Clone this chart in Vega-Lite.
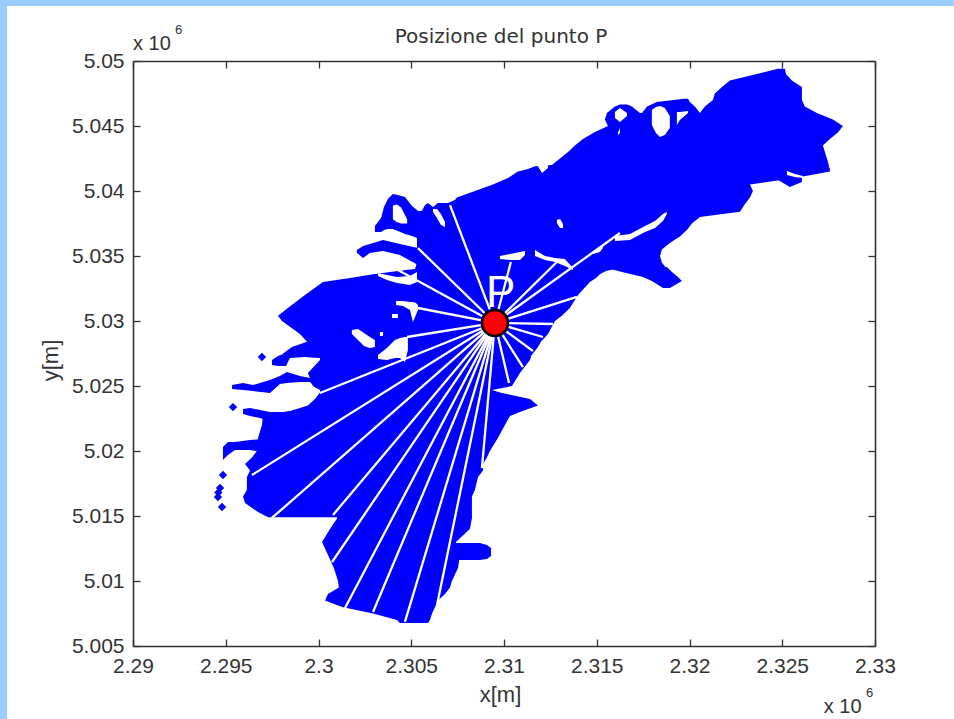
{"$schema":"https://vega.github.io/schema/vega-lite/v6.json","width":742,"height":585,"autosize":{"type":"none"},"padding":{"left":133,"top":61,"right":79,"bottom":73},"background":"white","title":{"text":"Posizione del punto P","font":"DejaVu Sans","fontSize":20,"fontWeight":"normal","color":"#333333","anchor":"middle","offset":-47,"dx":-3},"config":{"view":{"stroke":null},"axis":{"domainColor":"#333333","domainWidth":1.6,"tickColor":"#333333","tickWidth":1.3,"tickSize":-7,"grid":false,"labelFont":"Liberation Sans","labelFontSize":21,"labelColor":"#333333","labelPadding":16,"labelFlush":false,"labelOverlap":false,"titleFont":"Liberation Sans","titleFontSize":22,"titleFontWeight":"normal","titleColor":"#333333"}},"datasets":{"strips":[{"x":2282830,"x2":2283210,"y":4999385,"y2":5054690},{"x":2282830,"x2":2334250,"y":5054230,"y2":5054690}],"bands":[{"s":"a","y":5006770,"x":2304390,"x2":2305900},{"s":"a","y":5007000,"x":2304230,"x2":2306010},{"s":"a","y":5007500,"x":2302940,"x2":2306120},{"s":"a","y":5008000,"x":2301270,"x2":2306280},{"s":"a","y":5008500,"x":2300350,"x2":2306440},{"s":"a","y":5009000,"x":2300510,"x2":2306820},{"s":"a","y":5009500,"x":2301100,"x2":2307090},{"s":"a","y":5010000,"x":2301050,"x2":2307190},{"s":"a","y":5011000,"x":2300830,"x2":2307520},{"s":"a","y":5012000,"x":2300510,"x2":2307630},{"s":"a","y":5013000,"x":2300190,"x2":2307410},{"s":"a","y":5014000,"x":2300620,"x2":2308160},{"s":"a","y":5014800,"x":2301000,"x2":2308270},{"s":"a","y":5015000,"x":2301000,"x2":2308270},{"s":"b","y":5014900,"x":2297280,"x2":2308270},{"s":"b","y":5015300,"x":2296740,"x2":2308270},{"s":"b","y":5016000,"x":2296040,"x2":2308270},{"s":"b","y":5016500,"x":2295930,"x2":2308270},{"s":"b","y":5017000,"x":2296140,"x2":2308430},{"s":"b","y":5018000,"x":2296140,"x2":2308600},{"s":"b","y":5018500,"x":2296310,"x2":2308870},{"s":"b","y":5019000,"x":2296040,"x2":2308870},{"s":"b","y":5019500,"x":2296410,"x2":2309080},{"s":"b","y":5020000,"x":2296680,"x2":2309240},{"s":"b","y":5021000,"x":2296740,"x2":2309670},{"s":"b","y":5022000,"x":2296950,"x2":2310050},{"s":"b","y":5022700,"x":2297010,"x2":2310320},{"s":"b","y":5023000,"x":2298300,"x2":2310860},{"s":"b","y":5023500,"x":2299430,"x2":2311830},{"s":"b","y":5024000,"x":2299810,"x2":2311400},{"s":"b","y":5024500,"x":2300080,"x2":2309780},{"s":"b","y":5024690,"x":2300080,"x2":2309350},{"s":"b","y":5025000,"x":2299700,"x2":2310430},{"s":"b","y":5026000,"x":2299430,"x2":2310860},{"s":"b","y":5027000,"x":2300080,"x2":2311400},{"s":"b","y":5027200,"x":2300080,"x2":2311450},{"s":"b","y":5027300,"x":2298090,"x2":2311450},{"s":"b","y":5027500,"x":2298090,"x2":2311560},{"s":"b","y":5028000,"x":2298570,"x2":2311830},{"s":"b","y":5028400,"x":2299380,"x2":2311990},{"s":"b","y":5029000,"x":2299000,"x2":2312370},{"s":"b","y":5030000,"x":2298030,"x2":2312750},{"s":"b","y":5030400,"x":2297820,"x2":2313120},{"s":"b","y":5031000,"x":2298350,"x2":2313550},{"s":"b","y":5032000,"x":2299270,"x2":2313990},{"s":"b","y":5033000,"x":2300240,"x2":2314630},{"s":"b","y":5033300,"x":2301700,"x2":2314960},{"s":"b","y":5033600,"x":2302940,"x2":2315170},{"s":"b","y":5033850,"x":2304280,"x2":2315500},{"s":"b","y":5034000,"x":2305200,"x2":2315980},{"s":"p","y":5032540,"x":2318570,"x2":2318940},{"s":"p","y":5033080,"x":2317970,"x2":2319590},{"s":"p","y":5033380,"x":2317490,"x2":2319380},{"s":"p","y":5033770,"x":2316360,"x2":2319050},{"s":"p","y":5034150,"x":2315330,"x2":2318780},{"s":"c","y":5034000,"x":2305200,"x2":2318780},{"s":"c","y":5034500,"x":2305310,"x2":2318510},{"s":"c","y":5035000,"x":2305310,"x2":2318410},{"s":"c","y":5035500,"x":2305310,"x2":2318510},{"s":"c","y":5036000,"x":2305310,"x2":2318940},{"s":"c","y":5036500,"x":2305310,"x2":2319480},{"s":"c","y":5037000,"x":2305310,"x2":2319860},{"s":"c","y":5037500,"x":2305310,"x2":2320130},{"s":"c","y":5038000,"x":2305310,"x2":2320560},{"s":"c","y":5038400,"x":2305310,"x2":2322720},{"s":"c","y":5039000,"x":2307190,"x2":2322990},{"s":"c","y":5039500,"x":2307460,"x2":2323260},{"s":"c","y":5040000,"x":2308430,"x2":2323420},{"s":"c","y":5040500,"x":2309400,"x2":2323260},{"s":"c","y":5041000,"x":2310210,"x2":2325680},{"s":"c","y":5041500,"x":2310750,"x2":2327570},{"s":"c","y":5041700,"x":2311290,"x2":2327570},{"s":"c","y":5041900,"x":2311670,"x2":2327510},{"s":"c","y":5042000,"x":2312580,"x2":2327510},{"s":"c","y":5042500,"x":2313020,"x2":2327410},{"s":"c","y":5043000,"x":2313450,"x2":2327300},{"s":"c","y":5043500,"x":2313820,"x2":2327190},{"s":"c","y":5044000,"x":2314260,"x2":2327570},{"s":"c","y":5044500,"x":2314850,"x2":2328000},{"s":"c","y":5045000,"x":2315600,"x2":2328270},{"s":"c","y":5045500,"x":2315440,"x2":2327730},{"s":"c","y":5046000,"x":2315550,"x2":2326870},{"s":"n1","y":5046000,"x":2315550,"x2":2317330},{"s":"n1","y":5046500,"x":2315980,"x2":2316900},{"s":"n1","y":5046650,"x":2316250,"x2":2316630},{"s":"n2","y":5046000,"x":2317440,"x2":2320560},{"s":"n2","y":5046500,"x":2317710,"x2":2320290},{"s":"n2","y":5046850,"x":2318240,"x2":2320020},{"s":"n2","y":5047100,"x":2319700,"x2":2319920},{"s":"n3","y":5046000,"x":2320560,"x2":2326870},{"s":"n3","y":5046500,"x":2320830,"x2":2326220},{"s":"n3","y":5047000,"x":2321260,"x2":2326060},{"s":"n3","y":5047500,"x":2321370,"x2":2326060},{"s":"n3","y":5048000,"x":2321750,"x2":2326060},{"s":"n3","y":5048500,"x":2322180,"x2":2325520},{"s":"n3","y":5049000,"x":2323630,"x2":2325200},{"s":"n3","y":5049400,"x":2324770,"x2":2325140}],"land":[{"s":"spit","x":2307360,"y":5012920,"y2":5011620},{"s":"spit","x":2308700,"y":5012920,"y2":5011620},{"s":"spit","x":2309080,"y":5012770,"y2":5011690},{"s":"spit","x":2309300,"y":5012540,"y2":5011920},{"s":"lb","x":2324600,"y":5041150,"y2":5041000},{"s":"lb","x":2325410,"y":5041150,"y2":5040310},{"s":"lb","x":2326060,"y":5041150,"y2":5040690},{"s":"loop","x":2303040,"y":5037310,"y2":5036850},{"s":"loop","x":2303370,"y":5037920,"y2":5036850},{"s":"loop","x":2303530,"y":5038770,"y2":5037000},{"s":"loop","x":2303740,"y":5039380,"y2":5037080},{"s":"loop","x":2304010,"y":5039770,"y2":5037080},{"s":"loop","x":2304280,"y":5039690,"y2":5036920},{"s":"loop","x":2304660,"y":5039540,"y2":5036690},{"s":"loop","x":2305040,"y":5038850,"y2":5036540},{"s":"loop","x":2305310,"y":5038540,"y2":5036380},{"s":"loop","x":2305520,"y":5038310,"y2":5036230},{"s":"loop","x":2305740,"y":5038920,"y2":5035850},{"s":"loop","x":2305900,"y":5039080,"y2":5035850},{"s":"loop","x":2306170,"y":5038770,"y2":5035850},{"s":"loop","x":2306440,"y":5039080,"y2":5035850},{"s":"loop","x":2306980,"y":5039080,"y2":5035850},{"s":"loop","x":2307360,"y":5039310,"y2":5035850},{"s":"f1","x":2302070,"y":5035460,"y2":5035230},{"s":"f1","x":2302400,"y":5035770,"y2":5034850},{"s":"f1","x":2302770,"y":5035920,"y2":5035230},{"s":"f1","x":2303480,"y":5036230,"y2":5035380},{"s":"f1","x":2304390,"y":5035920,"y2":5035080},{"s":"f1","x":2305360,"y":5035610,"y2":5034310},{"s":"fa","x":2295340,"y":5025080,"y2":5024770},{"s":"fa","x":2295930,"y":5025230,"y2":5024690},{"s":"fa","x":2296470,"y":5025080,"y2":5024610},{"s":"fa","x":2297380,"y":5025460,"y2":5024460},{"s":"fa","x":2297920,"y":5025770,"y2":5025150},{"s":"fa","x":2298300,"y":5026080,"y2":5025230},{"s":"fa","x":2299000,"y":5025770,"y2":5025310},{"s":"fa","x":2299540,"y":5025610,"y2":5025310},{"s":"fa","x":2299860,"y":5025920,"y2":5024850},{"s":"lobe","x":2297490,"y":5027000,"y2":5026620},{"s":"lobe","x":2297820,"y":5027310,"y2":5026540},{"s":"lobe","x":2298250,"y":5027540,"y2":5026540},{"s":"lobe","x":2298460,"y":5027610,"y2":5027150},{"s":"lobe","x":2299270,"y":5027610,"y2":5027230},{"s":"lobe","x":2300080,"y":5027610,"y2":5027150},{"s":"fb","x":2295930,"y":5023230,"y2":5022850},{"s":"fb","x":2296310,"y":5023310,"y2":5022690},{"s":"fb","x":2296850,"y":5023150,"y2":5022540},{"s":"fb","x":2297380,"y":5023000,"y2":5022230},{"s":"fb","x":2298090,"y":5023000,"y2":5022000},{"s":"fb","x":2298460,"y":5023080,"y2":5022000},{"s":"fc","x":2294850,"y":5020310,"y2":5019310},{"s":"fc","x":2295120,"y":5020690,"y2":5019690},{"s":"fc","x":2295500,"y":5020690,"y2":5020080},{"s":"fc","x":2296310,"y":5020850,"y2":5020080},{"s":"fc","x":2296950,"y":5020920,"y2":5019920}],"water":[{"s":"w1","x":2303210,"y":5033690,"y2":5033460},{"s":"w1","x":2303690,"y":5033540,"y2":5033150},{"s":"w1","x":2304230,"y":5033380,"y2":5032920},{"s":"w1","x":2304930,"y":5033460,"y2":5032770},{"s":"w1","x":2305310,"y":5033770,"y2":5033000},{"s":"h1","x":2304010,"y":5038880,"y2":5037820},{"s":"h1","x":2304230,"y":5038960,"y2":5037590},{"s":"h1","x":2304450,"y":5038730,"y2":5037500},{"s":"h1","x":2304780,"y":5037820,"y2":5037500},{"s":"h2","x":2306170,"y":5038620,"y2":5038390},{"s":"h2","x":2306390,"y":5038620,"y2":5037930},{"s":"h2","x":2306600,"y":5038230,"y2":5037390},{"s":"h2","x":2306820,"y":5037620,"y2":5037240},{"s":"ha","x":2304180,"y":5031540,"y2":5031230},{"s":"ha","x":2304550,"y":5031540,"y2":5031150},{"s":"ha","x":2304930,"y":5031460,"y2":5030850},{"s":"ha","x":2305090,"y":5031460,"y2":5029920},{"s":"ha","x":2305250,"y":5031380,"y2":5030460},{"s":"ha","x":2305360,"y":5031230,"y2":5030850},{"s":"hs","x":2303960,"y":5030540,"y2":5030230},{"s":"hs","x":2304280,"y":5030540,"y2":5030230},{"s":"hb","x":2301800,"y":5029310,"y2":5029000},{"s":"hb","x":2302130,"y":5029380,"y2":5028540},{"s":"hb","x":2302450,"y":5029080,"y2":5028080},{"s":"hb","x":2302770,"y":5028770,"y2":5027920},{"s":"hb","x":2303040,"y":5028540,"y2":5028000},{"s":"hd","x":2303310,"y":5029150,"y2":5028850},{"s":"hd","x":2303480,"y":5029150,"y2":5028850},{"s":"hc","x":2303210,"y":5027380,"y2":5027080},{"s":"hc","x":2303690,"y":5027920,"y2":5027000},{"s":"hc","x":2304120,"y":5028540,"y2":5027150},{"s":"hc","x":2304390,"y":5028690,"y2":5027150},{"s":"hc","x":2304660,"y":5028770,"y2":5026850},{"s":"hc","x":2304820,"y":5028770,"y2":5027770},{"s":"l1","x":2315980,"y":5036540,"y2":5036150},{"s":"l1","x":2316790,"y":5036690,"y2":5036230},{"s":"l1","x":2317600,"y":5037310,"y2":5036850},{"s":"l1","x":2318140,"y":5037690,"y2":5037150},{"s":"l1","x":2318570,"y":5038230,"y2":5037690},{"s":"l1","x":2318780,"y":5038380,"y2":5038230},{"s":"l2","x":2311670,"y":5035460,"y2":5035000},{"s":"l2","x":2312210,"y":5035000,"y2":5034690},{"s":"l2","x":2312750,"y":5034850,"y2":5034540},{"s":"l2","x":2313280,"y":5034770,"y2":5034230},{"s":"l2","x":2313720,"y":5034080,"y2":5033920},{"s":"l3","x":2309780,"y":5035000,"y2":5034770},{"s":"l3","x":2310320,"y":5035150,"y2":5034690},{"s":"l3","x":2310860,"y":5035310,"y2":5034690},{"s":"l3","x":2311130,"y":5035380,"y2":5035080},{"s":"l4","x":2314790,"y":5035230,"y2":5035150},{"s":"l4","x":2315170,"y":5035690,"y2":5035310},{"s":"l4","x":2315330,"y":5035770,"y2":5035610},{"s":"l5","x":2312850,"y":5037770,"y2":5037540},{"s":"l5","x":2313020,"y":5037850,"y2":5037150},{"s":"l5","x":2313180,"y":5037460,"y2":5037150},{"s":"ie","x":2325250,"y":5041540,"y2":5041230},{"s":"ie","x":2325680,"y":5041310,"y2":5041080},{"s":"ie","x":2326110,"y":5041150,"y2":5041000},{"s":"no","x":2311780,"y":5042080,"y2":5042000},{"s":"no","x":2312050,"y":5042080,"y2":5041380},{"s":"no","x":2312370,"y":5042150,"y2":5041770},{"s":"bh","x":2317970,"y":5046230,"y2":5045080},{"s":"bh","x":2318190,"y":5046460,"y2":5044460},{"s":"bh","x":2318410,"y":5046540,"y2":5044150},{"s":"bh","x":2318670,"y":5046380,"y2":5044310},{"s":"bh","x":2318940,"y":5045770,"y2":5044850},{"s":"h3","x":2315980,"y":5046080,"y2":5045610},{"s":"h3","x":2316250,"y":5046380,"y2":5045310},{"s":"h3","x":2316630,"y":5046000,"y2":5045770},{"s":"h4","x":2316140,"y":5044460,"y2":5044310},{"s":"h4","x":2316250,"y":5044850,"y2":5044460},{"s":"in","x":2319320,"y":5046080,"y2":5045080},{"s":"in","x":2319480,"y":5046080,"y2":5045460},{"s":"in","x":2319920,"y":5046150,"y2":5046000}],"spokes":[{"x":2309510,"y":5029850,"x2":2307090,"y2":5038920},{"x":2309510,"y":5029850,"x2":2305360,"y2":5035610},{"x":2309510,"y":5029850,"x2":2304280,"y2":5033920},{"x":2309510,"y":5029850,"x2":2305360,"y2":5031000},{"x":2309510,"y":5029850,"x2":2304770,"y2":5028770},{"x":2309510,"y":5029850,"x2":2300080,"y2":5024460},{"x":2309510,"y":5029850,"x2":2296410,"y2":5018150},{"x":2309510,"y":5029850,"x2":2297490,"y2":5014850},{"x":2309510,"y":5029850,"x2":2300780,"y2":5015080},{"x":2309510,"y":5029850,"x2":2300730,"y2":5011460},{"x":2309510,"y":5029850,"x2":2301430,"y2":5007920},{"x":2309510,"y":5029850,"x2":2302940,"y2":5007620},{"x":2309510,"y":5029850,"x2":2304660,"y2":5006850},{"x":2309510,"y":5029850,"x2":2306390,"y2":5008150},{"x":2309510,"y":5029850,"x2":2308810,"y2":5018690},{"x":2309510,"y":5029850,"x2":2310370,"y2":5034540},{"x":2309510,"y":5029850,"x2":2312850,"y2":5034540},{"x":2309510,"y":5029850,"x2":2316250,"y2":5036770},{"x":2309510,"y":5029850,"x2":2313930,"y2":5031850},{"x":2309510,"y":5029850,"x2":2312640,"y2":5029770},{"x":2309510,"y":5029850,"x2":2312100,"y2":5028770},{"x":2309510,"y":5029850,"x2":2311560,"y2":5027690},{"x":2309510,"y":5029850,"x2":2311020,"y2":5026460},{"x":2309510,"y":5029850,"x2":2310270,"y2":5025230}],"islands":[{"x":2296950,"y":5027230},{"x":2295390,"y":5023380},{"x":2294850,"y":5018150},{"x":2294690,"y":5017150},{"x":2294580,"y":5016460},{"x":2294800,"y":5015690},{"x":2294600,"y":5016800}],"point":[{"x":2309510,"y":5029850}],"pLabel":[{"x":2309030,"y":5031080,"t":"P"}],"exponents":[{"x":2290000,"y":5050840,"t":"x 10"},{"x":2327240,"y":4999850,"t":"x 10"}],"supers":[{"x":2292260,"y":5052080,"t":"6"},{"x":2329510,"y":5001080,"t":"6"}]},"encoding":{"x":{"field":"x","type":"quantitative","scale":{"domain":[2290000,2330000],"zero":false,"nice":false},"axis":null},"y":{"field":"y","type":"quantitative","scale":{"domain":[5005000,5050000],"zero":false,"nice":false},"axis":null}},"layer":[{"data":{"name":"strips"},"mark":{"type":"rect","color":"#99CCFF"},"encoding":{"x":{"field":"x","type":"quantitative","axis":{"orient":"bottom","title":"x[m]","values":[2290000,2295000,2300000,2305000,2310000,2315000,2320000,2325000,2330000],"labelExpr":"format(datum.value/1000000,'.3~f')","titleY":38,"titleX":367}},"x2":{"field":"x2"},"y":{"field":"y","type":"quantitative","axis":{"orient":"left","title":"y[m]","values":[5005000,5010000,5015000,5020000,5025000,5030000,5035000,5040000,5045000,5050000],"labelExpr":"format(datum.value/1000000,'.3~f')","titleX":-71,"titleY":299}},"y2":{"field":"y2"}}},{"data":{"name":"bands"},"mark":{"type":"area","orient":"horizontal","color":"#0000FF"},"encoding":{"x2":{"field":"x2"},"detail":{"field":"s"}}},{"data":{"name":"land"},"mark":{"type":"area","orient":"vertical","color":"#0000FF"},"encoding":{"y2":{"field":"y2"},"detail":{"field":"s"}}},{"data":{"name":"islands"},"mark":{"type":"point","shape":"diamond","filled":true,"color":"#0000FF","size":70,"opacity":1}},{"data":{"name":"water"},"mark":{"type":"area","orient":"vertical","color":"white"},"encoding":{"y2":{"field":"y2"},"detail":{"field":"s"}}},{"data":{"name":"spokes"},"mark":{"type":"rule","color":"white","strokeWidth":2.3},"encoding":{"x2":{"field":"x2"},"y2":{"field":"y2"}}},{"data":{"name":"pLabel"},"mark":{"type":"text","font":"Liberation Sans","fontSize":44,"color":"white","align":"left","baseline":"alphabetic"},"encoding":{"text":{"field":"t"}}},{"data":{"name":"point"},"mark":{"type":"point","shape":"circle","filled":true,"fill":"#FF0000","stroke":"black","strokeWidth":2.6,"size":680,"opacity":1},"encoding":{"x":{"field":"x","type":"quantitative","axis":{"orient":"top","title":null,"labels":false,"values":[2290000,2295000,2300000,2305000,2310000,2315000,2320000,2325000,2330000]}},"y":{"field":"y","type":"quantitative","axis":{"orient":"right","title":null,"labels":false,"values":[5005000,5010000,5015000,5020000,5025000,5030000,5035000,5040000,5045000,5050000]}}}},{"data":{"name":"exponents"},"mark":{"type":"text","font":"Liberation Sans","fontSize":20,"color":"#333333","align":"left","baseline":"alphabetic"},"encoding":{"text":{"field":"t"}}},{"data":{"name":"supers"},"mark":{"type":"text","font":"Liberation Sans","fontSize":13,"color":"#333333","align":"left","baseline":"alphabetic"},"encoding":{"text":{"field":"t"}}}],"resolve":{"axis":{"x":"independent","y":"independent"}}}
